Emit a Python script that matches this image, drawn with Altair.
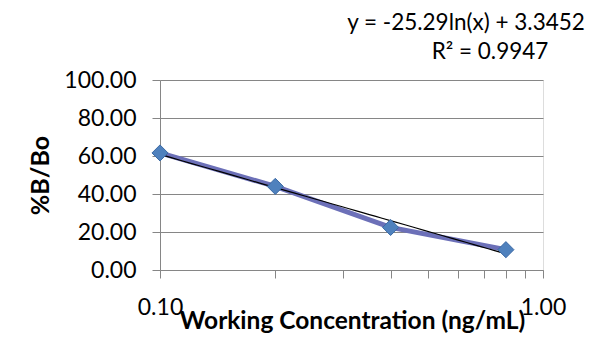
import altair as alt
import pandas as pd

conc = [0.1, 0.2, 0.4, 0.8]
bbo = [61.6, 44.0, 22.4, 10.7]
x_ticks = [0.1, 0.2, 0.3, 0.4, 0.5, 0.6, 0.7, 0.8, 0.9, 1.0]
y_ticks = [0, 20, 40, 60, 80, 100]
eq_text = "y = -25.29ln(x) + 3.3452"
r2_text = "R² = 0.9947"

df = pd.DataFrame({"conc": conc, "bbo": bbo})
FONT = "Lato"
GRAY = "#868686"

x_enc = alt.X(
    "conc:Q",
    scale=alt.Scale(type="log", domain=[0.1, 1.0]),
    axis=alt.Axis(
        values=x_ticks,
        labelExpr="abs(datum.value-0.1)<1e-6 ? '0.10' : (abs(datum.value-1)<1e-6 ? '1.00' : '')",
        grid=False, domainColor=GRAY, tickColor=GRAY, tickSize=8,
        labelPadding=36, labelBaseline="alphabetic",
        labelFont=FONT, labelFontSize=23, labelColor="black",
        title="Working Concentration (ng/mL)", titleFont=FONT, titleFontSize=24.5,
        titleFontWeight="bold", titleColor="black",
        titleY=58, titleX=192, titleBaseline="alphabetic", titleAlign="center",
        labelFlush=False, labelOverlap=False,
    ),
)
y_enc = alt.Y(
    "bbo:Q",
    scale=alt.Scale(domain=[0, 100]),
    axis=alt.Axis(
        values=y_ticks, format=".2f", grid=True, gridColor=GRAY,
        domainColor=GRAY, tickColor=GRAY, tickSize=8, labelPadding=16,
        labelFont=FONT, labelFontSize=23, labelColor="black",
        title="%B/Bo", titleFont=FONT, titleFontSize=25, titleFontWeight="bold",
        titleColor="black", titleAngle=270, titleX=-112, titleY=95,
        titleBaseline="alphabetic", titleAlign="center",
    ),
)

base = alt.Chart(df)
line = base.mark_line(color="#6c70b8", strokeWidth=5).encode(x=x_enc, y=y_enc)
pts = base.mark_point(shape="diamond", filled=True, size=260, color="#4f81bd",
                      stroke="#3c6aa5", strokeWidth=1, opacity=1).encode(x=x_enc, y=y_enc)
trend = base.transform_regression("conc", "bbo", method="log").mark_line(
    color="black", strokeWidth=1.2).encode(x=x_enc, y=y_enc)

eq = alt.Chart(pd.DataFrame({"t": [eq_text]})).mark_text(
    font=FONT, fontSize=22.5, align="center", baseline="alphabetic", color="black"
).encode(text="t:N", x=alt.value(306), y=alt.value(-50))
r2 = alt.Chart(pd.DataFrame({"t": [r2_text]})).mark_text(
    font=FONT, fontSize=22.5, align="center", baseline="alphabetic", color="black"
).encode(text="t:N", x=alt.value(330), y=alt.value(-21))

frame = alt.Chart(pd.DataFrame({"a": [0]})).mark_rect(
    fill=None, stroke="#bdbdbd", strokeWidth=2
).encode(x=alt.value(-156), x2=alt.value(460), y=alt.value(-76), y2=alt.value(300))

chart = alt.layer(frame, line, trend, pts, eq, r2).properties(
    width=383, height=190,
    autosize=alt.AutoSizeParams(type="none"),
    padding={"left": 152, "top": 72, "right": 47, "bottom": 70},
).configure_view(stroke=GRAY, strokeWidth=1.5).configure(background="white")

chart.save("out.html", embed_options={"renderer": "svg", "actions": False})
